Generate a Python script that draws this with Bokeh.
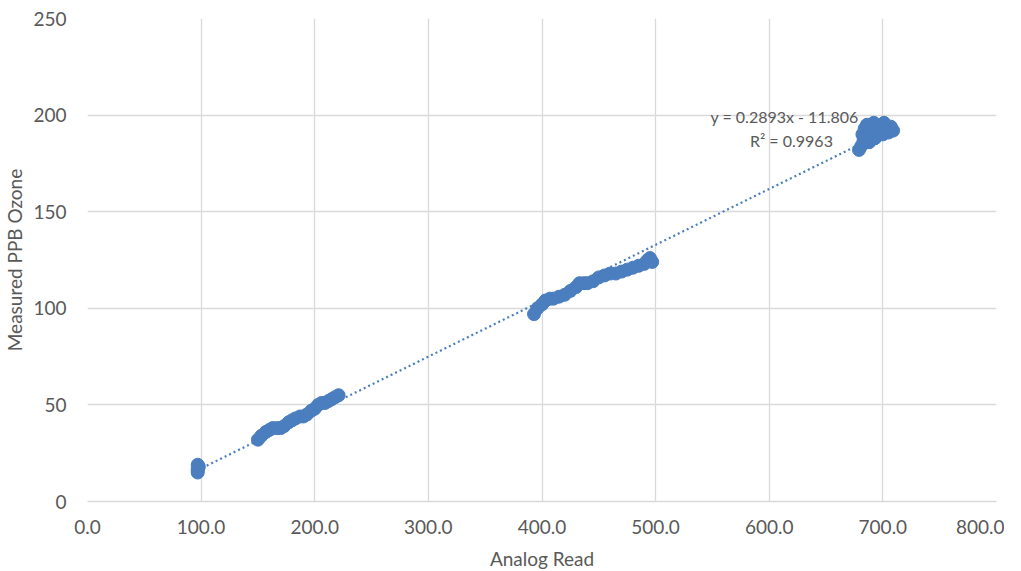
import numpy as np
from bokeh.plotting import figure
from bokeh.models import Range1d, FixedTicker, NumeralTickFormatter, ColumnDataSource
from bokeh.core.properties import value
from bokeh.embed import file_html
from bokeh.resources import INLINE

# ---- data ----
analog_x = [97, 97, 97, 98, 97,
            150, 153, 157, 160, 163, 167, 170, 173, 177, 180, 183, 187, 190, 193,
            197, 200, 203, 206, 209, 212, 215, 218, 221,
            393, 396, 400, 403, 407, 410, 415, 420, 425, 430, 433, 437, 440, 445,
            450, 455, 460, 465, 470, 475, 480, 485, 490, 493, 495, 497,
            679, 681, 683, 682, 684, 686, 690, 693, 695, 698, 701, 704, 707, 709,
            688, 692, 700, 705]
ozone_y = [15, 16, 17, 18, 19,
           32, 34, 36, 37, 38, 38, 38, 39, 41, 42, 43, 44, 44, 45,
           47, 48, 50, 51, 51, 52, 53, 54, 55,
           97, 100, 102, 104, 105, 105, 106, 107, 109, 111, 113, 113, 113, 114,
           116, 117, 118, 118, 119, 120, 121, 122, 123, 125, 126, 124,
           182, 184, 187, 190, 193, 195, 192, 188, 191, 194, 196, 193, 194, 192,
           186, 196, 190, 191]
trend_slope = 0.2893
trend_intercept = -11.806
eq_label = "y = 0.2893x - 11.806"
r2_label = "R² = 0.9963"
x_ticks = [0, 100, 200, 300, 400, 500, 600, 700, 800]
y_ticks = [0, 50, 100, 150, 200, 250]

BLUE = "#4A7EBF"
GRID = "#D9D9D9"
TXT = "#595959"
FONT = "Lato"

p = figure(frame_width=909, frame_height=483, output_backend="svg", toolbar_location=None,
           x_range=Range1d(0, 800), y_range=Range1d(0, 250),
           min_border_left=80, min_border_right=8, min_border_top=18, min_border_bottom=10)
p.outline_line_color = None

p.xaxis.ticker = FixedTicker(ticks=x_ticks)
p.yaxis.ticker = FixedTicker(ticks=y_ticks)
p.xaxis.formatter = NumeralTickFormatter(format="0.0")
p.yaxis.formatter = NumeralTickFormatter(format="0")
p.xgrid.ticker = FixedTicker(ticks=x_ticks)
p.ygrid.ticker = FixedTicker(ticks=y_ticks)
p.grid.grid_line_color = GRID
p.grid.grid_line_width = 1.3

for ax in (p.xaxis, p.yaxis):
    ax.major_tick_line_color = None
    ax.minor_tick_line_color = None
    ax.major_label_text_font = FONT
    ax.major_label_text_font_size = "19px"
    ax.major_label_text_color = TXT
    ax.axis_label_text_font = FONT
    ax.axis_label_text_font_size = "19px"
    ax.axis_label_text_color = TXT
    ax.axis_label_text_font_style = "normal"
p.yaxis.axis_line_color = None
p.xaxis.axis_line_color = GRID
p.xaxis.axis_line_width = 1.3
p.xaxis.axis_label = "Analog Read"
p.yaxis.axis_label = "Measured PPB Ozone"
p.xaxis.major_label_standoff = 12
p.yaxis.major_label_standoff = 15
p.xaxis.axis_label_standoff = 10
p.yaxis.axis_label_standoff = 4

src = ColumnDataSource(dict(x=analog_x, y=ozone_y))
p.scatter("x", "y", source=src, size=13, fill_color=BLUE, line_color=BLUE)

tx = np.array([min(analog_x), max(analog_x)], dtype=float)
ty = trend_slope * tx + trend_intercept
p.line(tx, ty, line_color=BLUE, line_width=2.2, line_dash="2 3")

p.text(x=[613.5], y=[199.5], text=[eq_label], text_align="center", text_baseline="middle",
       text_font=value(FONT), text_font_size="16px", text_color=TXT)
p.text(x=[619.5], y=[187.0], text=[r2_label], text_align="center", text_baseline="middle",
       text_font=value(FONT), text_font_size="16px", text_color=TXT)

open("out.html", "w").write(file_html(p, INLINE))
